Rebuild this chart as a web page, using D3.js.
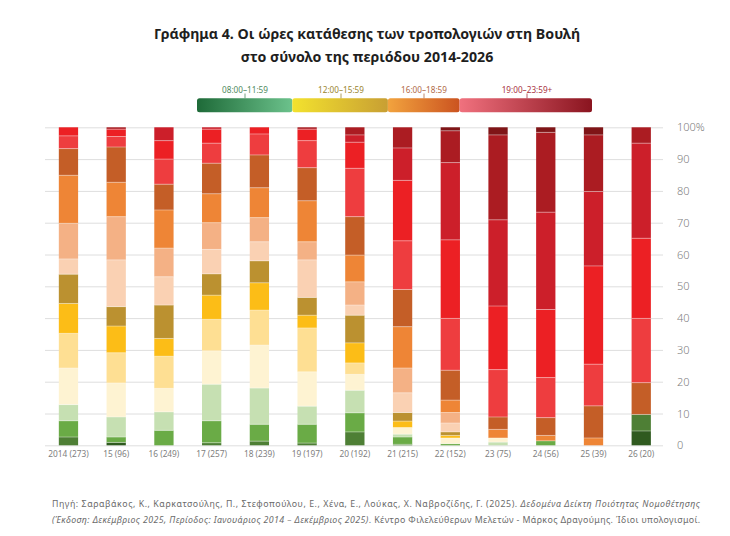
<!DOCTYPE html>
<html><head><meta charset="utf-8">
<script src="https://cdn.jsdelivr.net/npm/d3@7"></script>
<style>body{margin:0;background:#fff}svg{display:block}</style>
</head><body>
<svg id="c" width="730" height="536"></svg>
<script>
// ---- DATA ----
const years = ["2014 (273)","15 (96)","16 (249)","17 (257)","18 (239)","19 (197)","20 (192)","21 (215)","22 (152)","23 (75)","24 (56)","25 (39)","26 (20)"];
const hours = ["08","09","10","11","12","13","14","15","16","17","18","19","20","21","22","23","24+"];
const hourColors = ["#2f5a1f","#4e7f35","#6aab46","#c6e0b2","#fef3d2","#fedf93","#fcbd17","#bb9130","#fad1b3","#f4b185","#ee8536","#c45e27","#ee3d3f","#ec2024","#cc1f2a","#ab1c22","#7f1517"];
// share (%) of amendments per hour, one array per hour, across the 13 years
const h08 = [0,0.9,0,0,0,0,0,0,0,0,0,0,4.5];
const h09 = [2.6,0,0,0.8,1.3,0.7,4.2,0.3,0,0,0,0,5.2];
const h10 = [5.1,1.7,4.7,6.9,5.3,5.9,6.0,2.3,0.5,0,1.4,0,0];
const h11 = [5.1,6.3,5.8,11.5,11.4,5.7,7.1,0.9,0,1.0,0,0,0];
const h12 = [11.5,10.7,7.4,10.5,13.5,10.8,5.0,2.1,1.8,1.3,0,0,0];
const h13 = [10.9,9.5,10.1,9.9,11.0,13.8,3.6,0,0,0,0,0,0];
const h14 = [9.4,8.4,5.6,7.6,8.6,4.0,6.3,2.0,0.8,0,0,0,0];
const h15 = [9.2,6.1,10.5,6.7,6.9,5.6,8.7,2.7,1.1,0,0,0,0];
const h16 = [4.8,14.7,8.9,7.7,6.0,11.8,3.2,6.2,2.8,0,0,0,0];
const h17 = [11.2,13.6,9.0,8.4,7.6,5.7,7.3,7.8,3.3,0,0,0,0];
const h18 = [15.1,10.8,12.0,9.1,9.4,12.9,8.4,13.0,3.9,2.7,1.7,2.3,0];
const h19 = [8.4,11.1,8.1,9.6,10.3,10.4,12.1,11.7,9.4,3.9,5.6,10.1,10.0];
const h20 = [4.0,3.3,7.9,6.3,6.6,8.5,15.2,15.3,16.3,14.9,12.6,13.1,20.2];
const h21 = [2.7,2.3,5.8,4.4,2.1,3.6,8.2,19.0,24.7,20.0,21.4,30.9,25.2];
const h22 = [0,0,4.2,0.6,0,0,2.3,10.2,24.3,27.1,30.6,23.4,29.9];
const h23 = [0,0.6,0,0,0,0.6,2.4,6.5,10.0,26.7,25.1,17.8,5.0];
const h24 = [0,0,0,0,0,0,0,0,1.1,2.4,1.6,2.4,0];
const yTicks = [0,0.1,0.2,0.3,0.4,0.5,0.6,0.7,0.8,0.9,1];
const legendLabels = ["08:00–11:59","12:00–15:59","16:00–18:59","19:00–23:59+"];
const legendFrom = ["#1e6a38","#f3e22e","#f2a33e","#f0717e"];
const legendTo = ["#6cc28c","#c89f33","#cb5320","#8a141f"];
const legendTextColors = ["#4f8a60","#9a8530","#b06a48","#a83242"];
const titleLines = ["Γράφημα 4. Οι ώρες κατάθεσης των τροπολογιών στη Βουλή","στο σύνολο της περιόδου 2014-2026"];

// ---- BUILD ----
const series = [h08,h09,h10,h11,h12,h13,h14,h15,h16,h17,h18,h19,h20,h21,h22,h23,h24];
const table = years.map((yr,i)=>{const r={year:yr}; hours.forEach((h,k)=>r[h]=series[k][i]); return r;});
const layers = d3.stack().keys(hours).offset(d3.stackOffsetExpand)(table);
const color = d3.scaleOrdinal().domain(hours).range(hourColors);

const svg = d3.select("#c");
const FONT = "'Noto Sans', sans-serif";

const x = d3.scaleBand().domain(years).range([44.6,665.1]).paddingInner(0.596).paddingOuter(0.298);
const y = d3.scaleLinear().domain([0,1]).range([445.3,127.3]);

// title
svg.append("g").selectAll("text").data(titleLines).join("text")
  .attr("x",367).attr("y",(d,i)=>39+i*23).attr("text-anchor","middle")
  .attr("font-family",FONT).attr("font-weight",700).attr("font-size",14.2).attr("fill","#1e1e1e")
  .text(d=>d);

// legend
const lw = [95.3,95.6,71.7,132.4];
const lStarts = [197,292.3,387.9,459.6];
const defs = svg.append("defs");
legendLabels.forEach((l,i)=>{
  const g = defs.append("linearGradient").attr("id","lg"+i);
  g.append("stop").attr("offset","0%").attr("stop-color",legendFrom[i]);
  g.append("stop").attr("offset","100%").attr("stop-color",legendTo[i]);
});
const leg = svg.append("g");
leg.selectAll("rect").data(legendLabels).join("rect")
  .attr("x",(d,i)=>lStarts[i]).attr("y",98.3).attr("width",(d,i)=>lw[i]).attr("height",14)
  .attr("rx",2.5).attr("fill",(d,i)=>`url(#lg${i})`);
const legC = [245,341,424,527];
leg.selectAll("line").data(legendLabels).join("line")
  .attr("x1",(d,i)=>legC[i]).attr("x2",(d,i)=>legC[i]).attr("y1",93.5).attr("y2",98.3)
  .attr("stroke",(d,i)=>legendTextColors[i]).attr("stroke-width",0.8);
leg.selectAll("text").data(legendLabels).join("text")
  .attr("x",(d,i)=>legC[i]).attr("y",92.5).attr("text-anchor","middle")
  .attr("font-family",FONT).attr("font-size",8.2).attr("fill",(d,i)=>legendTextColors[i])
  .text(d=>d);

// y axis + grid
const yAxis = svg.append("g").attr("transform","translate(663,0)")
  .call(d3.axisRight(y).tickValues(yTicks).tickSize(-(663-45)).tickPadding(14)
    .tickFormat(d=>d===1?"100%":d3.format(".0f")(d*100)));
yAxis.select(".domain").remove();
yAxis.selectAll(".tick line").attr("stroke","#dedede").attr("stroke-width",1);
yAxis.selectAll(".tick text").attr("font-family",FONT).attr("font-size",11).attr("fill","#808080").attr("font-weight",300);

// bars
const gl = svg.append("g").selectAll("g").data(layers).join("g").attr("fill",d=>color(d.key));
gl.selectAll("rect").data(d=>d.map(v=>({v,key:d.key}))).join("rect")
  .attr("x",d=>x(d.v.data.year)).attr("width",x.bandwidth())
  .attr("y",d=>y(d.v[1])).attr("height",d=>Math.max(0,y(d.v[0])-y(d.v[1])));
// thin separators between segments
const seps = [];
layers.forEach(L=>L.forEach(v=>{ if(v[1]-v[0]>0 && v[1]<0.9999) seps.push(v); }));
svg.append("g").selectAll("line").data(seps).join("line")
  .attr("x1",d=>x(d.data.year)).attr("x2",d=>x(d.data.year)+x.bandwidth())
  .attr("y1",d=>y(d[1])).attr("y2",d=>y(d[1]))
  .attr("stroke","#fff").attr("stroke-opacity",0.55).attr("stroke-width",0.7);

// x axis
const xAxis = svg.append("g").attr("transform","translate(0,445.3)")
  .call(d3.axisBottom(x).tickSize(0).tickPadding(6));
xAxis.select(".domain").remove();
xAxis.selectAll(".tick text").attr("font-family",FONT).attr("font-size",8.3).attr("fill","#808080");

// source note
const src = svg.append("g").attr("font-family",FONT).attr("font-size",8.8).attr("fill","#6a6a6a");
const t1 = src.append("text").attr("x",52).attr("y",507).attr("textLength",648).attr("lengthAdjust","spacing");
t1.append("tspan").text("Πηγή: Σαραβάκος, Κ., Καρκατσούλης, Π., Στεφοπούλου, Ε., Χένα, Ε., Λούκας, Χ. Ναβροζίδης, Γ. (2025). ");
t1.append("tspan").attr("font-style","italic").text("Δεδομένα Δείκτη Ποιότητας Νομοθέτησης");
const t2 = src.append("text").attr("x",52).attr("y",523).attr("textLength",648).attr("lengthAdjust","spacing");
t2.append("tspan").attr("font-style","italic").text("(Έκδοση: Δεκέμβριος 2025, Περίοδος: Ιανουάριος 2014 – Δεκέμβριος 2025)");
t2.append("tspan").text(". Κέντρο Φιλελεύθερων Μελετών - Μάρκος Δραγούμης. Ίδιοι υπολογισμοί.");
</script>
</body></html>
